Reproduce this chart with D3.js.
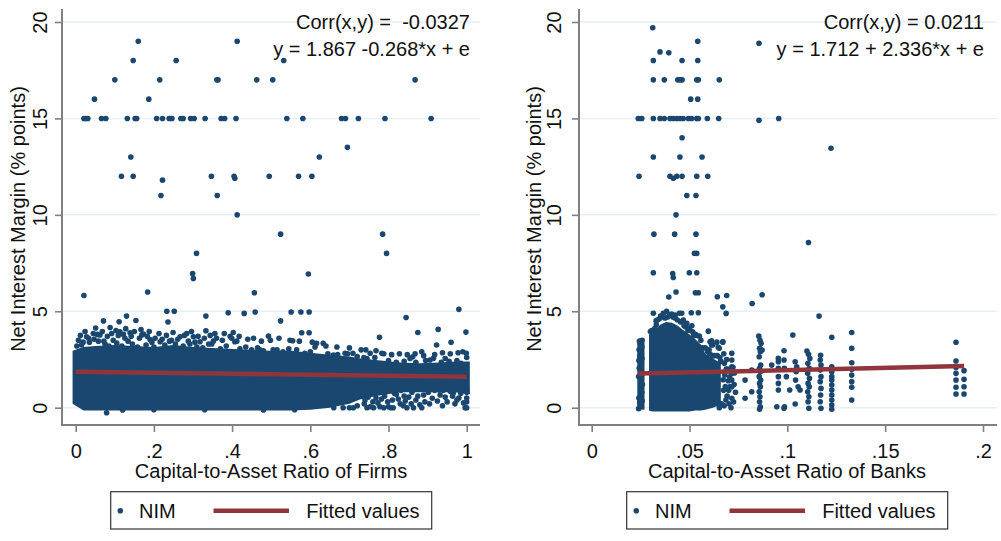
<!DOCTYPE html>
<html>
<head>
<meta charset="utf-8">
<script src="https://cdn.jsdelivr.net/npm/d3@7"></script>
<style>
  body { margin: 0; background: #fff; }
  text { font-family: "Liberation Sans", Arial, sans-serif; fill: #111; }
</style>
</head>
<body>
<svg id="chart" width="1001" height="541"></svg>
<script>
const dotColor = "#1a476f";
const fitColor = "#90353b";

const yTicks = [0, 5, 10, 15, 20];
const firmTicks = [0, 0.2, 0.4, 0.6, 0.8, 1];
const bankTicks = [0, 0.05, 0.1, 0.15, 0.2];

const yTitle = "Net Interest Margin (% points)";
const firmTitle = "Capital-to-Asset Ratio of Firms";
const bankTitle = "Capital-to-Asset Ratio of Banks";
const legendLabels = ["NIM", "Fitted values"];

const firmStats = ["Corr(x,y) =  -0.0327", "y = 1.867 -0.268*x + e"];
const bankStats = ["Corr(x,y) = 0.0211", "y = 1.712 + 2.336*x + e"];

// intercept, slope (from the printed equations)
const firmFit = [1.867, -0.268];
const bankFit = [1.712, 2.336];
const firmFitRange = [0, 1];
const bankFitRange = [0.0238, 0.1903];

// Saturated parts of the clouds, where single dots can't be told apart (visual envelope).
const firmCoreX  = [-0.008, 0.02, 0.05, 0.10, 0.15, 0.20, 0.25, 0.30, 0.35, 0.40, 0.45, 0.50, 0.55, 0.60, 0.65, 0.70, 0.73, 0.78, 0.83, 0.88, 0.93, 0.97, 1.008];
const firmCoreHi = [2.95, 3.15, 3.2, 3.25, 3.2, 3.15, 3.25, 3.15, 3.1, 3.05, 3.0, 2.95, 2.95, 2.85, 2.75, 2.65, 2.55, 2.45, 2.35, 2.3, 2.35, 2.4, 2.4];
const firmCoreLo = [0.2, -0.15, -0.15, -0.15, -0.15, -0.15, -0.15, -0.15, -0.15, -0.15, -0.15, -0.15, -0.15, -0.1, 0.0, 0.2, 0.45, 0.65, 0.8, 0.8, 0.8, 0.8, 0.7];

const bankCoreX  = [0.0293, 0.031, 0.033, 0.035, 0.038, 0.041, 0.044, 0.047, 0.050, 0.053, 0.056, 0.058, 0.062, 0.066];
const bankCoreHi = [3.8, 3.9, 4.1, 4.3, 4.45, 4.4, 4.25, 4.0, 3.8, 3.55, 3.25, 2.8, 2.55, 2.3];
const bankCoreLo = [-0.15, -0.2, -0.2, -0.2, -0.2, -0.2, -0.2, -0.2, -0.2, -0.15, -0.15, -0.1, 0.0, 0.15];

const bankColumnX  = [0.0233, 0.0270];
const bankColumnHi = [3.4, 3.4];
const bankColumnLo = [-0.1, -0.1];

// Firms: isolated high values
const firmHigh = [
  [0.021,15],[0.026,15],[0.031,15],[0.048,16],[0.066,15],[0.077,15],[0.100,17],[0.117,12],[0.132,15],
  [0.141,13],[0.147,18],[0.147,12],[0.152,15],[0.156,15],[0.160,19],[0.187,16],[0.207,15],[0.215,17],
  [0.218,11],[0.222,11.8],[0.222,15],[0.239,15],[0.246,15],[0.257,18],[0.269,15],[0.275,15],[0.294,15],
  [0.303,15],[0.309,8],[0.331,15],[0.347,12],[0.361,17],[0.364,17],[0.362,11],[0.372,15],[0.381,15],
  [0.405,12],[0.407,11.9],[0.410,15],[0.413,19],[0.413,10],[0.463,17],[0.495,12],[0.504,17],[0.524,9],
  [0.532,18],[0.540,15],[0.570,12],[0.581,15],[0.604,12],[0.623,13],[0.680,15],[0.690,15],[0.695,13.5],
  [0.723,15],[0.785,9],[0.791,15],[0.795,8],[0.868,17],[0.909,15],
  [0.299,6.95],[0.301,6.7],[0.021,5.82],[0.184,6.0],[0.233,5.0],[0.252,5.0],[0.236,4.44],[0.333,4.75],
  [0.390,4.92],[0.431,4.89],[0.457,5.96],[0.459,4.96],[0.595,6.93],[0.551,4.96],[0.576,4.96],[0.597,4.96],
  [0.524,4.5],[0.845,4.68],[0.980,5.1],[0.071,4.5],[0.130,4.75],[0.111,4.46],[0.154,4.52]
];

// Firms: dots along the ragged edge of the cloud
const firmEdge = [
  [0.007,3.5],[0.028,3.68],[0.045,3.85],[0.051,4.13],[0.062,3.77],[0.088,4.16],[0.096,3.5],[0.113,3.94],
  [0.126,3.6],[0.139,3.89],[0.169,3.77],[0.173,3.82],[0.190,3.54],[0.216,3.42],[0.245,3.5],[0.267,3.68],
  [0.284,3.85],[0.301,3.68],[0.318,3.42],[0.333,3.99],[0.348,3.3],[0.356,3.85],[0.399,3.6],[0.407,3.42],
  [0.493,3.71],[0.471,3.0],[0.505,3.0],[0.555,3.47],[0.578,3.89],[0.597,3.89],[0.565,3.0],[0.586,2.82],
  [0.616,3.34],[0.633,3.34],[0.659,2.73],[0.689,2.82],[0.709,2.82],[0.737,2.6],[0.753,2.82],[0.777,3.65],
  [0.783,2.82],[0.875,3.9],[0.885,2.9],[0.862,2.64],[0.927,4.06],[0.923,3.25],[0.960,3.39],[0.998,3.92],
  [0.990,2.9],[0.999,2.82],[0.906,2.47],[0.915,2.56],
  [0.015,3.25],[0.035,3.4],[0.058,3.45],[0.075,3.3],[0.085,3.2],[0.105,3.35],[0.118,3.2],[0.145,3.3],
  [0.158,3.15],[0.180,3.25],[0.200,3.15],[0.228,3.25],[0.255,3.3],[0.275,3.2],[0.292,3.3],[0.310,3.15],
  [0.325,3.1],[0.340,3.3],[0.370,3.05],[0.385,3.2],[0.420,3.05],[0.435,3.15],[0.450,3.0],[0.465,3.1],
  [0.480,2.95],[0.515,3.0],[0.530,2.9],[0.545,3.05],[0.600,2.9],[0.645,2.8],[0.670,2.75],[0.695,2.8],
  [0.720,2.65],[0.745,2.55],[0.765,2.6],[0.800,2.45],[0.820,2.35],[0.840,2.4],[0.855,2.55],[0.870,2.35],
  [0.895,2.45],[0.935,2.35],[0.945,2.55],[0.955,2.4],[0.975,2.45],[0.985,2.3],
  [0.003,3.2],[0.012,3.75],[0.019,3.4],[0.024,3.95],[0.033,3.6],[0.047,3.55],[0.055,3.8],
  [0.068,3.95],[0.072,3.45],[0.081,3.7],[0.092,3.85],[0.103,4.0],[0.109,3.75],
  [0.122,3.8],[0.128,4.1],[0.134,3.45],[0.142,3.7],[0.150,3.95],[0.163,3.6],
  [0.167,4.05],[0.183,3.7],[0.188,3.95],[0.195,3.4],[0.203,3.6],[0.213,3.85],
  [0.221,3.55],[0.232,3.75],[0.240,3.45],[0.249,3.9],[0.261,3.55],
  [0.278,3.75],[0.288,3.45],[0.296,3.95],[0.305,3.4],[0.313,3.7],[0.329,3.6],
  [0.344,3.75],[0.352,3.45],[0.360,3.6],[0.375,3.5],[0.380,3.85],[0.395,3.7],
  [0.403,3.9],[0.412,3.45],[0.418,3.7],[0.440,3.55],[0.455,3.6],
  [0.475,3.45],[0.498,3.5],[0.520,3.6],[0.548,3.5],
  [0.572,3.45],[0.605,3.4],[0.612,3.15],[0.640,3.2],[0.668,3.15],
  [0.700,3.1],[0.730,3.0],
  [0.742,3.0],[0.768,2.95],[0.788,2.8],[0.808,2.75],
  [0.828,2.8],[0.848,2.75],[0.868,2.8],[0.890,2.7],
  [0.918,2.75],[0.938,2.85],[0.958,2.8],[0.978,2.85],[1.000,2.6],
  [0.079,-0.26],[0.120,-0.12],[0.200,-0.1],[0.330,-0.1],[0.480,-0.12],[0.560,-0.1],
  [0.660,0.0],[0.684,0.0],[0.700,0.0],[0.710,0.0],[0.720,0.1],[0.753,0.05],[0.778,0.05],[0.800,0.05],
  [0.806,0.0],[0.847,0.0],[0.864,0.0],[0.885,0.0],[0.996,0.0],[1.000,0.0],[0.740,0.4],[0.760,0.3],
  [0.790,0.6],[0.810,0.4],[0.820,0.7],[0.830,0.2],[0.870,0.4],[0.890,0.66],[0.912,0.49],[0.932,0.66],
  [0.964,0.6],[0.966,0.78],[0.896,1.0],[0.930,0.92],[0.950,0.3],[0.980,0.5],[1.000,0.5],[1.000,0.8],
  [0.860,0.8],[0.840,0.6],[0.770,0.8],[0.750,0.7],[0.940,0.9],[0.970,0.2],[0.990,1.0],
  [0.732,0.6],[0.738,0.2],[0.745,0.0],[0.748,0.55],[0.762,0.0],[0.768,0.5],[0.773,0.25],[0.782,0.45],
  [0.788,0.0],[0.792,0.85],[0.798,0.3],[0.812,0.0],[0.815,0.75],[0.825,0.45],[0.832,0.9],[0.838,0.1],
  [0.843,0.35],[0.852,0.55],[0.858,0.2],[0.866,0.95],[0.875,0.6],[0.880,0.15],[0.893,0.3],[0.902,0.8],
  [0.905,0.2],[0.918,0.9],[0.925,0.35],[0.938,0.1],[0.945,0.55],[0.958,0.85],[0.975,0.4],[0.985,0.75],
  [0.992,0.25],[1.000,0.3],[1.000,0.95]
];

// Banks: isolated high values
const bankHigh = [
  [0.0312,19.7],[0.0542,19],[0.0855,18.9],[0.0349,18.45],[0.0394,18.4],[0.0315,18],[0.0462,18],[0.0542,18],
  [0.0315,17],[0.0371,17],[0.0440,17],[0.0451,17],[0.0462,17],[0.0537,17],[0.0545,17],[0.0652,17],
  [0.0506,16],[0.0542,16],
  [0.0238,15],[0.0256,15],[0.0315,15],[0.0349,15],[0.0371,15],[0.0400,15],[0.0417,15],[0.0435,15],
  [0.0451,15],[0.0468,15],[0.0494,15],[0.0511,15],[0.0537,15],[0.0545,15],[0.0591,15],[0.0649,15],
  [0.0855,14.9],[0.0956,15],
  [0.0462,14],[0.0315,13],[0.0451,13],[0.0564,13],[0.1223,13.45],
  [0.0242,12],[0.0400,12],[0.0417,11.9],[0.0435,12],[0.0462,12],[0.0537,12],[0.0593,12],
  [0.0486,11],[0.0533,11],[0.0431,10],[0.0318,9],[0.0424,9],[0.0533,9],[0.1108,8.57],[0.0525,8],[0.0537,8],
  [0.0315,7],[0.0414,6.96],[0.0417,6.75],[0.0499,7],[0.0537,7],
  [0.0431,6.0],[0.0394,5.74],[0.0530,5.96],[0.0545,5.96],[0.0642,5.75],[0.0690,5.82],[0.0670,5.23],
  [0.0687,4.89],[0.0871,5.86],[0.0820,5.4],[0.1162,4.75]
];

// Banks: low column, cloud edge and the sparse columns to the right
const bankLow = [
  [0.0240,-0.05],[0.0252,0.1],[0.0245,0.25],[0.0258,0.35],[0.0241,0.5],[0.0256,0.8],
  [0.0251,1.1],[0.0259,1.2],[0.0240,1.62],[0.0257,1.75],
  [0.0243,2.05],[0.0241,2.45],[0.0257,2.55],[0.0246,2.7],
  [0.0253,2.85],[0.0242,3.0],[0.0256,3.15],[0.0249,3.3],[0.0244,3.45],[0.0258,3.5],
  [0.0315,4.9],[0.0329,4.5],[0.0366,4.9],[0.0383,5.0],[0.0409,4.85],[0.0426,4.8],[0.0448,4.9],[0.0460,4.9],
  [0.0509,4.92],[0.0545,4.92],[0.0486,4.37],[0.0358,4.7],[0.0307,4.0],[0.0426,4.65],[0.0468,4.54],
  [0.0596,3.97],[0.0550,3.71],[0.0516,3.94],[0.0613,3.47],[0.0613,3.25],[0.0670,3.4],[0.0652,3.08],
  [0.0330,4.3],[0.0500,4.1],[0.0530,3.8],[0.0480,4.2],[0.0345,4.6],
  [0.0300,3.95],[0.0322,4.1],[0.0335,4.55],[0.0352,4.75],[0.0375,4.65],[0.0388,4.7],
  [0.0398,4.8],[0.0415,4.7],[0.0438,4.55],[0.0455,4.45],
  [0.0472,4.25],[0.0492,4.0],[0.0512,4.25],[0.0522,3.75],
  [0.0535,3.75],[0.0558,3.5],[0.0565,3.1],[0.0580,3.1],[0.0592,2.9],[0.0603,2.8],
  [0.0600,3.0],[0.0605,3.42],[0.0619,3.25],[0.0625,2.7],[0.0632,0.3],
  [0.0640,3.4],[0.0642,2.7],[0.0652,0.0],
  [0.0647,3.13],[0.0660,2.4],[0.0663,0.2],
  [0.0670,3.42],[0.0675,2.8],[0.0678,2.3],[0.0680,1.7],[0.0683,1.1],[0.0686,0.4],
  [0.0690,2.5],[0.0695,2.0],[0.0698,1.4],[0.0700,0.9],[0.0702,0.2],
  [0.0618,2.7],[0.0655,2.6],[0.0672,1.45],
  [0.0674,0.9],[0.0677,0.1],[0.0688,2.0],[0.0692,0.6],[0.0705,1.6],[0.0708,1.1],[0.0712,0.0],
  [0.0722,2.1],[0.0725,0.3],
  [0.0716,2.82],[0.0716,2.47],[0.0716,2.12],[0.0716,1.78],[0.0716,1.43],[0.0716,1.09],[0.0716,0.49],
  [0.0730,1.8],[0.0728,1.2],[0.0735,0.8],
  [0.0784,1.43],[0.0784,0.49],[0.0818,1.95],[0.0818,0.83],
  [0.0854,3.71],[0.0860,3.5],[0.0866,3.34],[0.0858,3.08],[0.0862,2.9],[0.0856,2.64],[0.0864,2.21],
  [0.0858,2.04],[0.0862,1.87],[0.0856,1.61],[0.0864,1.43],[0.0858,1.26],[0.0862,1.09],[0.0856,0.83],
  [0.0860,0.57],[0.0858,0.31],[0.0862,0.05],[0.0858,-0.08],[0.0871,2.99],[0.0920,2.21],
  [0.0954,2.56],[0.0954,2.38],[0.0954,2.04],[0.0954,1.61],[0.0954,1.26],[0.0954,0.92],[0.0946,0.05],
  [0.0983,2.95],[0.0985,0.05],[0.0985,2.04],[0.0995,1.61],[0.1012,0.92],[0.0983,-0.03],[0.0983,2.47],
  [0.1028,3.77],[0.1040,2.38],[0.1048,2.12],[0.1045,1.87],[0.1042,1.43],[0.1055,1.09],[0.1065,0.92],[0.1040,0.19],
  [0.1100,2.94],[0.1108,2.77],[0.1115,2.55],[0.1105,2.3],[0.1112,2.04],[0.1104,1.78],[0.1113,1.52],
  [0.1106,1.26],[0.1112,1.09],[0.1104,0.83],[0.1110,0.57],[0.1106,0.31],[0.1110,-0.03],
  [0.1170,2.72],[0.1168,2.47],[0.1172,2.21],[0.1168,1.95],[0.1172,1.61],[0.1168,1.35],[0.1172,1.0],
  [0.1170,0.66],[0.1168,0.31],[0.1172,-0.03],
  [0.1227,3.65],[0.1227,2.12],[0.1227,1.87],[0.1227,1.61],[0.1227,1.43],[0.1227,1.18],[0.1227,0.92],
  [0.1227,0.66],[0.1227,0.4],[0.1227,0.14],[0.1227,-0.08],
  [0.1329,3.9],[0.1329,3.08],[0.1329,2.33],[0.1329,1.99],[0.1329,1.69],[0.1329,1.35],[0.1329,1.06],[0.1329,0.4],
  [0.1862,3.39],[0.1862,2.42],[0.1862,2.09],[0.1862,1.78],[0.1862,1.43],[0.1862,1.06],[0.1862,0.71],
  [0.1903,1.92],[0.1903,1.47],[0.1903,1.09],[0.1903,0.71]
];

const svg = d3.select("#chart");
const frameTop = 9, frameBottom = 425;
const y = d3.scaleLinear().domain([0, 20]).range([407.7, 22]);

function tickText(d) {
  return d === 0 ? "0" : String(d).replace(/^0/, "");
}

function drawPanel(p) {
  const x = d3.scaleLinear().domain(p.domain).range(p.range);
  const g = svg.append("g");

  // grid lines
  g.selectAll("line.grid").data(yTicks).join("line")
    .attr("class", "grid")
    .attr("x1", p.left).attr("x2", p.right)
    .attr("y1", d => y(d)).attr("y2", d => y(d))
    .attr("stroke", "#e6eff1").attr("stroke-width", 1.5);

  // dense parts of the cloud
  const core = d3.area().x(d => x(d[0])).y0(d => y(d[1])).y1(d => y(d[2]));
  p.cores.forEach(c => {
    g.append("path")
      .datum(d3.zip(c[0], c[1], c[2]))
      .attr("d", core)
      .attr("fill", dotColor);
  });

  // points
  g.append("g").selectAll("circle").data(p.points).join("circle")
    .attr("cx", d => x(d[0])).attr("cy", d => y(d[1]))
    .attr("r", 2.8).attr("fill", dotColor);

  // fitted line
  const fitLine = d3.line().x(d => x(d)).y(d => y(p.fit[0] + p.fit[1] * d));
  g.append("path").datum(p.fitRange)
    .attr("d", fitLine)
    .attr("fill", "none").attr("stroke", fitColor).attr("stroke-width", 4.5);

  // x axis
  const xa = g.append("g")
    .attr("transform", `translate(0,${frameBottom})`)
    .call(d3.axisBottom(x).tickValues(p.ticks).tickFormat(tickText).tickSize(7));
  xa.select(".domain").remove();
  xa.selectAll(".tick line").attr("stroke", "#808080").attr("stroke-width", 1.6);
  xa.selectAll(".tick text").attr("y", 32.7).attr("dy", 0)
    .attr("font-size", 20).attr("fill", "#111");
  g.append("line")
    .attr("x1", p.left - 1).attr("x2", p.right)
    .attr("y1", frameBottom).attr("y2", frameBottom)
    .attr("stroke", "#808080").attr("stroke-width", 2);

  // y axis
  const ya = g.append("g")
    .attr("transform", `translate(${p.left},0)`)
    .call(d3.axisLeft(y).tickValues(yTicks).tickFormat(d3.format("d")).tickSize(7));
  ya.select(".domain").remove();
  ya.selectAll(".tick line").attr("stroke", "#808080").attr("stroke-width", 1.6);
  ya.selectAll(".tick text")
    .attr("x", 0).attr("dy", "0.35em")
    .attr("transform", `translate(${p.yLabelOffset},0) rotate(-90)`)
    .attr("text-anchor", "middle")
    .attr("font-size", 20).attr("fill", "#111");
  g.append("line")
    .attr("x1", p.left).attr("x2", p.left)
    .attr("y1", frameTop).attr("y2", frameBottom + 1)
    .attr("stroke", "#808080").attr("stroke-width", 2);

  // titles
  g.append("text")
    .attr("transform", `translate(${p.left + p.yTitleOffset},${(frameTop + frameBottom) / 2 + 2}) rotate(-90)`)
    .attr("dy", "0.35em").attr("text-anchor", "middle").attr("font-size", 20)
    .text(yTitle);
  g.append("text")
    .attr("x", p.titleX).attr("y", 477.5)
    .attr("text-anchor", "middle").attr("font-size", 20)
    .text(p.title);

  // stats text
  g.selectAll("text.stat").data(p.stats).join("text")
    .attr("class", "stat")
    .attr("x", p.statX).attr("y", (d, i) => 29.3 + i * 26.7)
    .attr("text-anchor", "end").attr("font-size", 20)
    .style("white-space", "pre")
    .text(d => d);

  // legend
  const lg = g.append("g").attr("transform", `translate(${p.legendX},491.7)`);
  lg.append("rect").attr("width", 321).attr("height", 37.3)
    .attr("fill", "#fff").attr("stroke", "#333").attr("stroke-width", 1.2);
  lg.append("circle").attr("cx", 9.6).attr("cy", 19).attr("r", 2.8).attr("fill", dotColor);
  lg.append("text").attr("x", 28.3).attr("y", 26.3).attr("font-size", 20).text(legendLabels[0]);
  lg.append("line").attr("x1", 102.8).attr("x2", 178.3).attr("y1", 19).attr("y2", 19)
    .attr("stroke", fitColor).attr("stroke-width", 4.5);
  lg.append("text").attr("x", 195.5).attr("y", 26.3).attr("font-size", 20).text(legendLabels[1]);
}

drawPanel({
  domain: [0, 1], range: [75.7, 466.7], left: 62, right: 480, ticks: firmTicks,
  cores: [[firmCoreX, firmCoreLo, firmCoreHi]],
  points: firmHigh.concat(firmEdge), fit: firmFit, fitRange: firmFitRange,
  yLabelOffset: -22, yTitleOffset: -44, title: firmTitle, titleX: 271,
  stats: firmStats, statX: 470, legendX: 110.7
});

drawPanel({
  domain: [0, 0.2], range: [591.7, 983], left: 579, right: 997, ticks: bankTicks,
  cores: [[bankCoreX, bankCoreLo, bankCoreHi], [bankColumnX, bankColumnLo, bankColumnHi]],
  points: bankHigh.concat(bankLow), fit: bankFit, fitRange: bankFitRange,
  yLabelOffset: -25, yTitleOffset: -45, title: bankTitle, titleX: 787,
  stats: bankStats, statX: 984, legendX: 626.7
});
</script>
</body>
</html>
